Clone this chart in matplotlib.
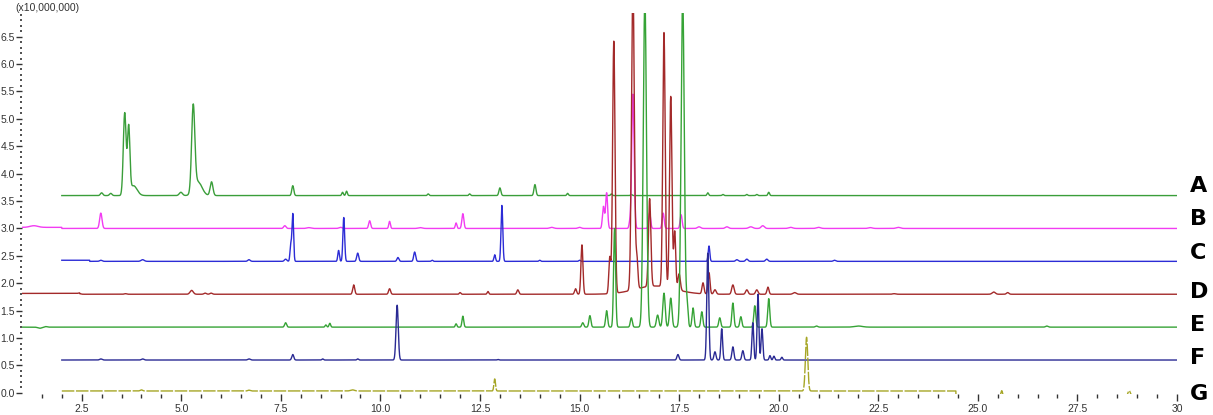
import numpy as np
import matplotlib.pyplot as plt
from matplotlib.ticker import MultipleLocator, FixedLocator

plt.rcParams['font.family'] = ['Liberation Sans', 'DejaVu Sans']

# retention time grid (min)
x = np.linspace(1.0, 30.0, 14000)

# trace labels, colours, start time, baseline steps (x_from, level), peaks (rt, height, sigma)
names = ['A', 'B', 'C', 'D', 'E', 'F', 'G']
colors = ['#3a9e3a', '#f23cf2', '#2c2cd6', '#a32a2a', '#36a336', '#2a2a94', '#a6a626']
starts = [2.0, 1.0, 2.0, 1.0, 1.0, 2.0, 2.0]

a_base = [(2.0, 3.6)]
a_peaks = [(3.0, 0.05, 0.03), (3.23, 0.04, 0.03), (3.58, 1.5, 0.035), (3.68, 1.2, 0.03),
           (3.8, 0.18, 0.09), (4.99, 0.06, 0.04), (5.3, 1.55, 0.04), (5.42, 0.25, 0.1),
           (5.76, 0.25, 0.035), (7.8, 0.18, 0.025), (9.05, 0.06, 0.02), (9.15, 0.08, 0.02),
           (11.2, 0.03, 0.02), (12.24, 0.03, 0.02), (13.0, 0.14, 0.025), (13.88, 0.2, 0.025),
           (14.7, 0.04, 0.02), (15.8, 0.03, 0.02), (16.3, 0.02, 0.02), (18.22, 0.05, 0.02),
           (18.6, 0.02, 0.02), (19.2, 0.02, 0.02), (19.45, 0.02, 0.02), (19.75, 0.06, 0.02)]

b_base = [(1.0, 3.02), (2.0, 3.0)]
b_peaks = [(1.3, 0.03, 0.1), (2.98, 0.28, 0.03), (7.6, 0.05, 0.03), (9.73, 0.14, 0.025),
           (10.23, 0.13, 0.02), (11.9, 0.1, 0.02), (12.07, 0.27, 0.025), (8.2, 0.015, 0.05),
           (9.0, 0.02, 0.04), (11.0, 0.015, 0.05), (14.3, 0.02, 0.05), (15.0, 0.02, 0.04),
           (15.6, 0.4, 0.025), (15.68, 0.65, 0.025), (16.26, 0.1, 0.02), (16.34, 2.45, 0.03),
           (16.76, 0.28, 0.025), (17.1, 0.28, 0.025), (17.55, 0.25, 0.025), (18.0, 0.03, 0.04),
           (18.7, 0.03, 0.04), (19.3, 0.03, 0.05), (19.6, 0.05, 0.04), (20.3, 0.02, 0.05),
           (21.0, 0.02, 0.05), (22.3, 0.015, 0.05), (23.0, 0.02, 0.05)]

c_base = [(2.0, 2.42), (2.7, 2.4)]
c_peaks = [(2.98, 0.02, 0.03), (4.03, 0.03, 0.04), (6.7, 0.03, 0.03), (7.62, 0.04, 0.03),
           (7.75, 0.3, 0.02), (7.8, 0.86, 0.02), (8.95, 0.2, 0.02), (9.08, 0.8, 0.022),
           (9.43, 0.15, 0.025), (10.44, 0.07, 0.025), (10.86, 0.17, 0.025), (11.3, 0.02, 0.02),
           (12.87, 0.12, 0.02), (13.05, 1.02, 0.022), (14.0, 0.02, 0.02), (15.0, 0.02, 0.02),
           (18.25, 0.28, 0.02), (18.95, 0.03, 0.03), (19.2, 0.04, 0.03), (19.7, 0.04, 0.03),
           (21.4, 0.02, 0.03)]

d_base = [(1.0, 1.815), (2.45, 1.8)]
d_peaks = [(2.45, 0.01, 0.03), (3.6, 0.01, 0.03), (5.26, 0.07, 0.04), (5.6, 0.02, 0.03),
           (5.75, 0.02, 0.03), (9.33, 0.17, 0.025), (10.23, 0.1, 0.025), (12.0, 0.03, 0.02),
           (12.7, 0.05, 0.02), (13.45, 0.08, 0.025), (14.9, 0.1, 0.025), (15.06, 0.9, 0.025),
           (15.76, 0.66, 0.025), (15.86, 4.6, 0.03), (16.34, 5.6, 0.035), (16.44, 0.55, 0.025),
           (16.76, 1.6, 0.03), (16.9, 0.15, 0.5), (17.12, 4.64, 0.03), (17.29, 3.5, 0.03),
           (17.39, 1.05, 0.025), (17.5, 0.3, 0.03), (18.1, 0.2, 0.025), (18.25, 0.39, 0.025),
           (18.4, 0.08, 0.03), (18.85, 0.17, 0.03), (19.2, 0.08, 0.03), (19.45, 0.08, 0.03),
           (19.73, 0.13, 0.025), (20.4, 0.03, 0.04), (22.9, 0.01, 0.04), (25.4, 0.04, 0.04),
           (25.75, 0.03, 0.03)]

e_base = [(1.0, 1.2)]
e_peaks = [(1.45, -0.02, 0.05), (1.6, 0.01, 0.03), (7.62, 0.08, 0.025), (8.63, 0.04, 0.02),
           (8.73, 0.07, 0.02), (11.9, 0.06, 0.02), (12.07, 0.2, 0.022), (15.08, 0.08, 0.025),
           (15.26, 0.21, 0.025), (15.68, 0.3, 0.025), (15.88, 1.8, 0.025), (16.3, 0.17, 0.025),
           (16.64, 6.0, 0.04), (16.96, 0.22, 0.03), (17.12, 0.62, 0.03), (17.29, 0.53, 0.03),
           (17.59, 6.0, 0.04), (17.7, 0.4, 0.025), (17.85, 0.35, 0.025), (18.07, 0.28, 0.025),
           (18.52, 0.17, 0.025), (18.85, 0.44, 0.025), (19.05, 0.19, 0.025), (19.4, 0.39, 0.025),
           (19.75, 0.52, 0.025), (20.95, 0.02, 0.03), (22.0, 0.02, 0.1), (26.73, 0.02, 0.03)]

f_base = [(2.0, 0.6)]
f_peaks = [(2.98, 0.02, 0.03), (4.03, 0.02, 0.03), (6.7, 0.02, 0.03), (7.8, 0.1, 0.025),
           (8.55, 0.02, 0.02), (9.43, 0.02, 0.02), (10.42, 1.0, 0.028), (12.95, 0.01, 0.02),
           (17.47, 0.1, 0.025), (18.22, 1.95, 0.025), (18.4, 0.15, 0.025), (18.57, 0.57, 0.022),
           (18.85, 0.24, 0.025), (19.1, 0.17, 0.025), (19.35, 0.68, 0.022), (19.48, 1.2, 0.022),
           (19.58, 0.57, 0.022), (19.78, 0.08, 0.02), (19.88, 0.07, 0.02), (20.08, 0.05, 0.02)]

g_base = [(2.0, 0.035), (24.45, -0.06)]
g_peaks = [(4.0, 0.02, 0.03), (6.7, 0.015, 0.03), (9.3, 0.02, 0.05), (12.87, 0.22, 0.02),
           (20.7, 0.98, 0.03), (25.6, 0.1, 0.02), (28.8, 0.1, 0.03)]

bases = [a_base, b_base, c_base, d_base, e_base, f_base, g_base]
peaks = [a_peaks, b_peaks, c_peaks, d_peaks, e_peaks, f_peaks, g_peaks]


def build(start, steps, plist):
    y = np.zeros_like(x)
    for x0, lev in steps:
        y[x >= x0] = lev
    for c, h, w in plist:
        y += h * np.exp(-0.5 * ((x - c) / w) ** 2)
    y[x < start] = np.nan
    return y


fig = plt.figure(figsize=(12.13, 4.15), dpi=100)
ax = fig.add_axes([0.0181, 0.0506, 0.9522, 0.918])

for i, name in enumerate(names):
    y = build(starts[i], bases[i], peaks[i])
    ls = (0, (9, 1.2)) if name == 'G' else '-'
    ax.plot(x, y, color=colors[i], lw=1.0, ls=ls)

ax.set_xlim(1.0, 30.0)
ax.set_ylim(-0.02, 6.93)

for s in ax.spines.values():
    s.set_visible(False)

ax.yaxis.set_major_locator(FixedLocator(np.arange(0, 6.51, 0.5)))
ax.yaxis.set_minor_locator(MultipleLocator(0.1))
ax.yaxis.set_major_formatter(plt.FuncFormatter(lambda v, p: f'{v:.1f}'))
ax.xaxis.set_major_locator(FixedLocator(np.arange(2.5, 30.01, 2.5)))
ax.xaxis.set_minor_locator(FixedLocator(np.arange(1.5, 30.01, 0.5)))
ax.xaxis.set_major_formatter(plt.FuncFormatter(lambda v, p: '30' if v >= 30 else f'{v:.1f}'))

ax.tick_params(axis='both', which='major', labelsize=7.5, colors='#333333', length=4, width=1, pad=1)
ax.tick_params(axis='y', which='minor', length=1.5, width=1.2, colors='#333333')
ax.tick_params(axis='x', which='minor', length=3, width=1, colors='#333333')
ax.tick_params(axis='x', which='major', length=5, pad=2)

fig.text(0.013, 0.992, '(x10,000,000)', fontsize=7.5, color='#333333', ha='left', va='top')

label_y = [3.78, 3.18, 2.55, 1.84, 1.24, 0.64, -0.02]
for name, ly in zip(names, label_y):
    ax.text(30.33, ly, name, fontsize=16, fontweight='bold', ha='left', va='center',
            clip_on=False, color='black', family='DejaVu Sans')

fig.savefig('out.png', dpi=100)
